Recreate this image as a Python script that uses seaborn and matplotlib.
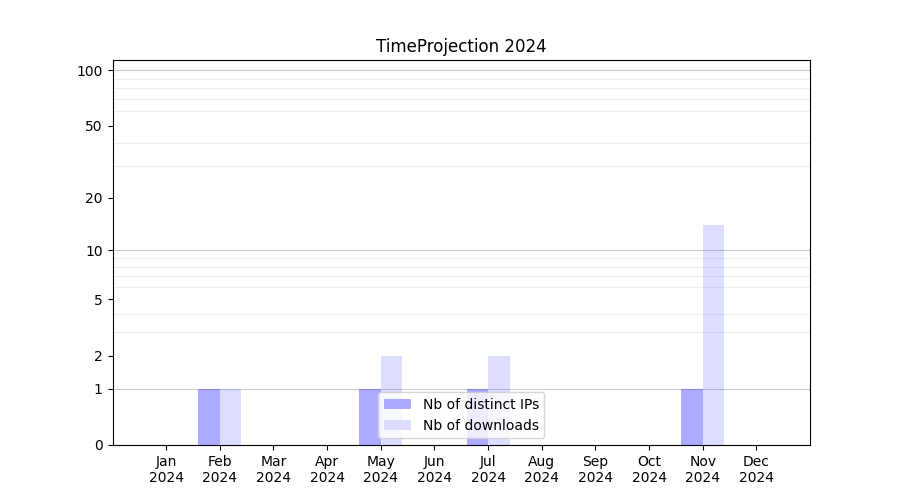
import numpy as np
import pandas as pd
import matplotlib
matplotlib.use("Agg")
import matplotlib.pyplot as plt
from matplotlib.ticker import FixedLocator
import seaborn as sns

months = ["Jan", "Feb", "Mar", "Apr", "May", "Jun",
          "Jul", "Aug", "Sep", "Oct", "Nov", "Dec"]
year = "2024"
distinct_ips = [0, 1, 0, 0, 1, 0, 1, 0, 0, 0, 1, 0]
downloads = [0, 1, 0, 0, 2, 0, 2, 0, 0, 0, 14, 0]

ip_label = "Nb of distinct IPs"
dl_label = "Nb of downloads"

df = pd.DataFrame({
    "month": months * 2,
    "count": distinct_ips + downloads,
    "series": [ip_label] * len(months) + [dl_label] * len(months),
})

fig, ax = plt.subplots(figsize=(9, 5), dpi=100)

sns.barplot(data=df, x="month", y="count", hue="series",
            palette=["#aaaaff", "#ddddff"], saturation=1, width=0.8,
            linewidth=0, errorbar=None, ax=ax)

# transparent blue like the original so grid shows through
for cont, a in zip(ax.containers, [0.33, 0.135]):
    for p in cont:
        p.set_facecolor((0, 0, 1, a))

# log(1 + x) scale
ax.set_yscale("function", functions=(lambda v: np.log10(1 + np.maximum(v, -0.99)),
                                     lambda v: 10 ** v - 1))
ax.set_ylim(0, 113.5)
ax.set_xlim(-1, 12)

ax.set_yticks([0, 1, 2, 5, 10, 20, 50, 100])
ax.set_yticklabels(["0", "1", "2", "5", "10", "20", "50", "100"])
minor = [2, 3, 4, 5, 6, 7, 8, 9, 20, 30, 40, 50, 60, 70, 80, 90]
ax.yaxis.set_minor_locator(FixedLocator(minor))
ax.tick_params(axis="y", which="minor", length=0)
ax.grid(axis="y", which="minor", color="#eeeeee", linewidth=0.8)
for v in [1, 10, 100]:
    ax.axhline(v, color="#cccccc", linewidth=0.8, zorder=0.5)
ax.set_axisbelow(True)

ax.set_xticks(range(len(months)))
ax.set_xticklabels([f"{m}\n{year}" for m in months])
ax.set_xlabel("")
ax.set_ylabel("")
ax.set_title("TimeProjection 2024")

sns.move_legend(ax, "lower center", title=None)

plt.savefig("out.png")
plt.close()
